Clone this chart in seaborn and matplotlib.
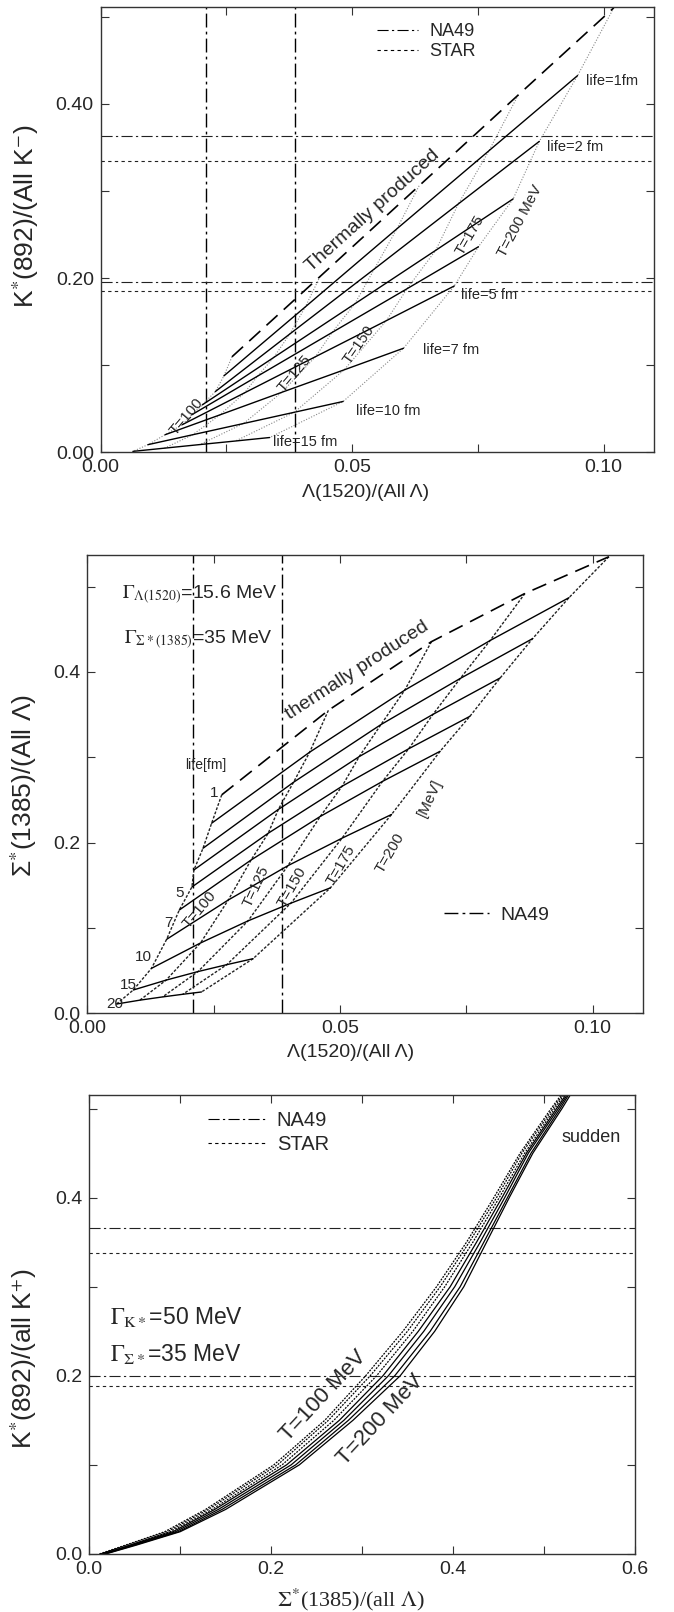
import matplotlib
matplotlib.use('Agg')
import matplotlib.pyplot as plt
import seaborn as sns
from matplotlib.ticker import MultipleLocator, FuncFormatter

# ---------------- data ----------------
# top panel: K*(892)/K- vs Lambda(1520)/Lambda, rows = life (thermal,1,2,3,4,5,7,10,15 fm)
# columns = T = 100,125,150,175,200 MeV
temps = [100, 125, 150, 175, 200]
top_lives = ['thermal', 1, 2, 3, 4, 5, 7, 10, 15]
top_x = [
    [0.0261, 0.0436, 0.0633, 0.0830, 0.1020],
    [0.0245, 0.0407, 0.0589, 0.0772, 0.0948],
    [0.0228, 0.0376, 0.0544, 0.0711, 0.0872],
    [0.0202, 0.0344, 0.0505, 0.0666, 0.0820],
    [0.0181, 0.0312, 0.0460, 0.0609, 0.0751],
    [0.0162, 0.0286, 0.0427, 0.0568, 0.0703],
    [0.0128, 0.0237, 0.0360, 0.0484, 0.0602],
    [0.0094, 0.0183, 0.0284, 0.0385, 0.0482],
    [0.0064, 0.0127, 0.0197, 0.0268, 0.0336],
]
top_y = [
    [0.1097, 0.2018, 0.3060, 0.4102, 0.5103],
    [0.0878, 0.1671, 0.2567, 0.3463, 0.4325],
    [0.0698, 0.1359, 0.2105, 0.2852, 0.3570],
    [0.0545, 0.1089, 0.1704, 0.2319, 0.2910],
    [0.0431, 0.0875, 0.1376, 0.1878, 0.2360],
    [0.0317, 0.0683, 0.1098, 0.1512, 0.1910],
    [0.0202, 0.0430, 0.0689, 0.0947, 0.1195],
    [0.0088, 0.0202, 0.0331, 0.0460, 0.0584],
    [0.0011, 0.0048, 0.0089, 0.0130, 0.0170],
]

# middle panel: Sigma*(1385)/Lambda vs Lambda(1520)/Lambda
mid_lives = ['thermal', 1, 2, 3, 4, 5, 7, 10, 15, 20]
mid_x = [
    [0.0266, 0.0477, 0.0681, 0.0866, 0.1032],
    [0.0246, 0.0440, 0.0628, 0.0797, 0.0953],
    [0.0229, 0.0408, 0.0581, 0.0738, 0.0881],
    [0.0211, 0.0378, 0.0538, 0.0684, 0.0817],
    [0.0207, 0.0358, 0.0504, 0.0636, 0.0757],
    [0.0182, 0.0324, 0.0461, 0.0584, 0.0698],
    [0.0157, 0.0279, 0.0397, 0.0504, 0.0602],
    [0.0127, 0.0224, 0.0318, 0.0403, 0.0481],
    [0.0091, 0.0156, 0.0219, 0.0276, 0.0328],
    [0.0058, 0.0104, 0.0149, 0.0189, 0.0226],
]
mid_y = [
    [0.256, 0.355, 0.4355, 0.492, 0.535],
    [0.2227, 0.3060, 0.3786, 0.4368, 0.487],
    [0.1934, 0.2707, 0.3383, 0.3924, 0.439],
    [0.168, 0.2389, 0.3008, 0.3503, 0.393],
    [0.148, 0.211, 0.266, 0.310, 0.348],
    [0.121, 0.1796, 0.2307, 0.2717, 0.307],
    [0.0867, 0.1328, 0.173, 0.2052, 0.233],
    [0.0527, 0.0824, 0.1083, 0.1291, 0.147],
    [0.0273, 0.0389, 0.0489, 0.057, 0.064],
    [0.0109, 0.0154, 0.0192, 0.0223, 0.025],
]

# bottom panel: K*/K+ vs Sigma*/Lambda, x of each curve at given y levels
bot_y = [0.0, 0.01, 0.025, 0.05, 0.1, 0.15, 0.2, 0.25, 0.3, 0.35, 0.4, 0.45, 0.5, 0.53]
bot_x = [
    [0.011, 0.040, 0.083, 0.128, 0.203, 0.259, 0.304, 0.345, 0.382, 0.415, 0.445, 0.474, 0.508, 0.530],
    [0.012, 0.042, 0.086, 0.131, 0.207, 0.263, 0.309, 0.350, 0.386, 0.418, 0.448, 0.476, 0.510, 0.531],
    [0.013, 0.044, 0.089, 0.135, 0.212, 0.269, 0.316, 0.356, 0.391, 0.422, 0.451, 0.479, 0.512, 0.532],
    [0.014, 0.046, 0.092, 0.138, 0.217, 0.275, 0.323, 0.362, 0.397, 0.426, 0.454, 0.481, 0.514, 0.534],
    [0.016, 0.048, 0.095, 0.142, 0.222, 0.280, 0.329, 0.368, 0.402, 0.430, 0.457, 0.483, 0.516, 0.535],
    [0.017, 0.050, 0.098, 0.146, 0.227, 0.285, 0.336, 0.375, 0.408, 0.434, 0.460, 0.486, 0.518, 0.536],
    [0.018, 0.052, 0.100, 0.150, 0.231, 0.290, 0.342, 0.380, 0.412, 0.437, 0.462, 0.488, 0.520, 0.538],
]
bot_styles = ['dotted', 'dotted', 'dotted', 'solid', 'solid', 'solid', 'solid']

# experimental bands
na49_lam = [0.0210, 0.0386]
na49_kstar = [0.196, 0.363]
star_kstar = [0.185, 0.335]
na49_kstar_b = [0.200, 0.366]
star_kstar_b = [0.189, 0.338]

# ---------------- styling ----------------
sns.set_style('ticks')
plt.rcParams['font.family'] = ['Liberation Sans', 'DejaVu Sans']
plt.rcParams['mathtext.fontset'] = 'stix'
plt.rcParams['axes.edgecolor'] = '#333333'
plt.rcParams['axes.linewidth'] = 1.0

NA49_LS = (0, (10, 3, 2, 3))
STAR_LS = (0, (3, 3))
THERM_LS = (0, (9, 5))
TICK_FS = 14


def line(ax, xs, ys, **kw):
    sns.lineplot(x=list(xs), y=list(ys), ax=ax, sort=False, estimator=None,
                 legend=False, **kw)


def ticks(ax, xstep, ystep, xlab_step, ylab_step, xfmt, yfmt):
    ax.xaxis.set_major_locator(MultipleLocator(xstep))
    ax.yaxis.set_major_locator(MultipleLocator(ystep))

    def mk(step, fmt):
        def f(v, p):
            r = v / step
            return fmt % v if abs(r - round(r)) < 1e-6 else ''
        return FuncFormatter(f)
    ax.xaxis.set_major_formatter(mk(xlab_step, xfmt))
    ax.yaxis.set_major_formatter(mk(ylab_step, yfmt))
    ax.tick_params(direction='in', top=True, right=True, length=6, width=0.8,
                   labelsize=TICK_FS, pad=5, color='#333333')


fig = plt.figure(figsize=(6.74, 16.12), dpi=100)
ax1 = fig.add_axes([0.1494, 0.7194, 0.8209, 0.2761])
ax2 = fig.add_axes([0.1295, 0.3714, 0.8249, 0.2843])
ax3 = fig.add_axes([0.1325, 0.0360, 0.8092, 0.2846])

rot = dict(ha='center', va='center', rotation_mode='anchor')

# ---------------- top panel ----------------
for xv in na49_lam:
    ax1.axvline(xv, color='k', lw=1.0, ls=NA49_LS)
for yv in na49_kstar:
    ax1.axhline(yv, color='#222222', lw=0.8, ls=NA49_LS)
for yv in star_kstar:
    ax1.axhline(yv, color='#222222', lw=0.8, ls=STAR_LS)
for j in range(len(temps)):
    line(ax1, [r[j] for r in top_x], [r[j] for r in top_y],
         color='#888888', lw=0.8, linestyle=(0, (1, 1.5)))
for i, lv in enumerate(top_lives):
    if lv == 'thermal':
        line(ax1, top_x[i], top_y[i], color='k', lw=1.2, linestyle=THERM_LS)
    else:
        line(ax1, top_x[i], top_y[i], color='k', lw=1.0)

ax1.set_xlim(0, 0.11)
ax1.set_ylim(0, 0.511)
ticks(ax1, 0.025, 0.1, 0.05, 0.2, '%.2f', '%.2f')
ax1.set_xlabel('Λ(1520)/(All Λ)', fontsize=14)
ax1.set_ylabel(r'K$^{*}$(892)/(All K$^{-}$)', fontsize=19)
ax1.xaxis.set_label_coords(0.478, -0.072)
ax1.yaxis.set_label_coords(-0.108, 0.53)

lw_lab = dict(fontsize=10.5, ha='left', va='center')
ax1.text(0.0965, 0.426, 'life=1fm', **lw_lab)
ax1.text(0.0888, 0.351, 'life=2 fm', **lw_lab)
ax1.text(0.0717, 0.1805, 'life=5 fm', **lw_lab)
ax1.text(0.0640, 0.1176, 'life=7 fm', **lw_lab)
ax1.text(0.0508, 0.047, 'life=10 fm', **lw_lab)
ax1.text(0.0342, 0.0122, 'life=15 fm', **lw_lab)
ax1.text(0.0171, 0.041, 'T=100', rotation=50, fontsize=11, **rot)
ax1.text(0.0386, 0.0908, 'T=125', rotation=50, fontsize=11, **rot)
ax1.text(0.0514, 0.1233, 'T=150', rotation=55, fontsize=11, **rot)
ax1.text(0.0734, 0.249, 'T=175', rotation=60, fontsize=11, **rot)
ax1.text(0.0833, 0.266, 'T=200 MeV', rotation=62, fontsize=11, **rot)
ax1.text(0.054, 0.277, 'Thermally produced', fontsize=14, rotation=42, **rot)

h1 = ax1.plot([], [], color='k', lw=0.8, ls=NA49_LS, label='NA49')[0]
h2 = ax1.plot([], [], color='k', lw=0.8, ls=STAR_LS, label='STAR')[0]
ax1.legend(handles=[h1, h2], loc='upper left', bbox_to_anchor=(0.499, 0.965),
           frameon=False, fontsize=13, handlelength=2.3, handletextpad=0.6,
           labelspacing=0.2, borderaxespad=0, borderpad=0)

# ---------------- middle panel ----------------
for xv in na49_lam:
    ax2.axvline(xv, color='k', lw=1.0, ls=NA49_LS)
for j in range(len(temps)):
    line(ax2, [r[j] for r in mid_x], [r[j] for r in mid_y],
         color='#222222', lw=1.0, linestyle=(0, (2, 1.2)))
for i, lv in enumerate(mid_lives):
    if lv == 'thermal':
        line(ax2, mid_x[i], mid_y[i], color='k', lw=1.2, linestyle=THERM_LS)
    else:
        line(ax2, mid_x[i], mid_y[i], color='k', lw=1.0)

ax2.set_xlim(0, 0.11)
ax2.set_ylim(0, 0.537)
ticks(ax2, 0.025, 0.1, 0.05, 0.2, '%.2f', '%.1f')
ax2.set_xlabel('Λ(1520)/(All Λ)', fontsize=14)
ax2.set_ylabel(r'Σ$^{*}$(1385)/(All Λ)', fontsize=19)
ax2.xaxis.set_label_coords(0.474, -0.068)
ax2.yaxis.set_label_coords(-0.087, 0.496)

ax2.text(0.0068, 0.49, r'$\Gamma_{\Lambda(1520)}$=15.6 MeV', fontsize=14,
         ha='left', va='center')
ax2.text(0.0072, 0.4375, r'$\Gamma_{\Sigma*(1385)}$=35 MeV', fontsize=14,
         ha='left', va='center')
ax2.text(0.0535, 0.402, 'thermally produced', fontsize=14, rotation=33, **rot)
ax2.text(0.0235, 0.291, 'life[fm]', fontsize=10, ha='center', va='center')
ax2.text(0.0677, 0.252, '[MeV]', fontsize=11, rotation=65, **rot)
ax2.text(0.0600, 0.1875, 'T=200', rotation=60, fontsize=11, **rot)
ax2.text(0.0503, 0.1738, 'T=175', rotation=60, fontsize=11, **rot)
ax2.text(0.0406, 0.148, 'T=150', rotation=60, fontsize=11, **rot)
ax2.text(0.0335, 0.149, 'T=125', rotation=65, fontsize=11, **rot)
ax2.text(0.0223, 0.121, 'T=100', rotation=50, fontsize=11, **rot)
for txt, xv, yv in [('1', 0.0250, 0.258), ('5', 0.0183, 0.141), ('7', 0.0160, 0.106),
                    ('10', 0.0111, 0.066), ('15', 0.0081, 0.033), ('20', 0.0055, 0.011)]:
    ax2.text(xv, yv, txt, fontsize=11, ha='center', va='center')

h3 = ax2.plot([], [], color='k', lw=1.0, ls=NA49_LS, label='NA49')[0]
ax2.legend(handles=[h3], loc='center left', bbox_to_anchor=(0.642, 0.214),
           frameon=False, fontsize=14, handlelength=2.3, handletextpad=0.6,
           borderaxespad=0, borderpad=0)

# ---------------- bottom panel ----------------
for yv in na49_kstar_b:
    ax3.axhline(yv, color='#222222', lw=0.8, ls=NA49_LS)
for yv in star_kstar_b:
    ax3.axhline(yv, color='#222222', lw=0.8, ls=STAR_LS)
for xs, st in zip(bot_x, bot_styles):
    if st == 'dotted':
        line(ax3, xs, bot_y, color='k', lw=0.9, linestyle=(0, (1.5, 1)))
    else:
        line(ax3, xs, bot_y, color='k', lw=0.9)

ax3.set_xlim(0, 0.6)
ax3.set_ylim(0, 0.515)
ticks(ax3, 0.1, 0.1, 0.2, 0.2, '%.1f', '%.1f')
ax3.set_xlabel(r'$\Sigma^{*}$(1385)/(all $\Lambda$)', fontsize=16,
               family=['Liberation Serif', 'DejaVu Serif'])
ax3.set_ylabel(r'K$^{*}$(892)/(all K$^{+}$)', fontsize=19)
ax3.xaxis.set_label_coords(0.48, -0.072)
ax3.yaxis.set_label_coords(-0.092, 0.427)

ax3.text(0.552, 0.468, 'sudden', fontsize=13, ha='center', va='center')
ax3.text(0.0225, 0.2665, r'$\Gamma_{\rm K*}$=50 MeV', fontsize=16.5, ha='left', va='center')
ax3.text(0.0225, 0.224, r'$\Gamma_{\Sigma*}$=35 MeV', fontsize=16.5, ha='left', va='center')
ax3.text(0.258, 0.178, 'T=100 MeV', fontsize=16, rotation=47, **rot)
ax3.text(0.320, 0.150, 'T=200 MeV', fontsize=16, rotation=47, **rot)

h4 = ax3.plot([], [], color='k', lw=0.8, ls=NA49_LS, label='NA49')[0]
h5 = ax3.plot([], [], color='k', lw=0.8, ls=STAR_LS, label='STAR')[0]
ax3.legend(handles=[h4, h5], loc='upper left', bbox_to_anchor=(0.218, 0.965),
           frameon=False, fontsize=14.5, handlelength=2.8, handletextpad=0.6,
           labelspacing=0.25, borderaxespad=0, borderpad=0)

fig.savefig('out.png', dpi=100, facecolor='white')
